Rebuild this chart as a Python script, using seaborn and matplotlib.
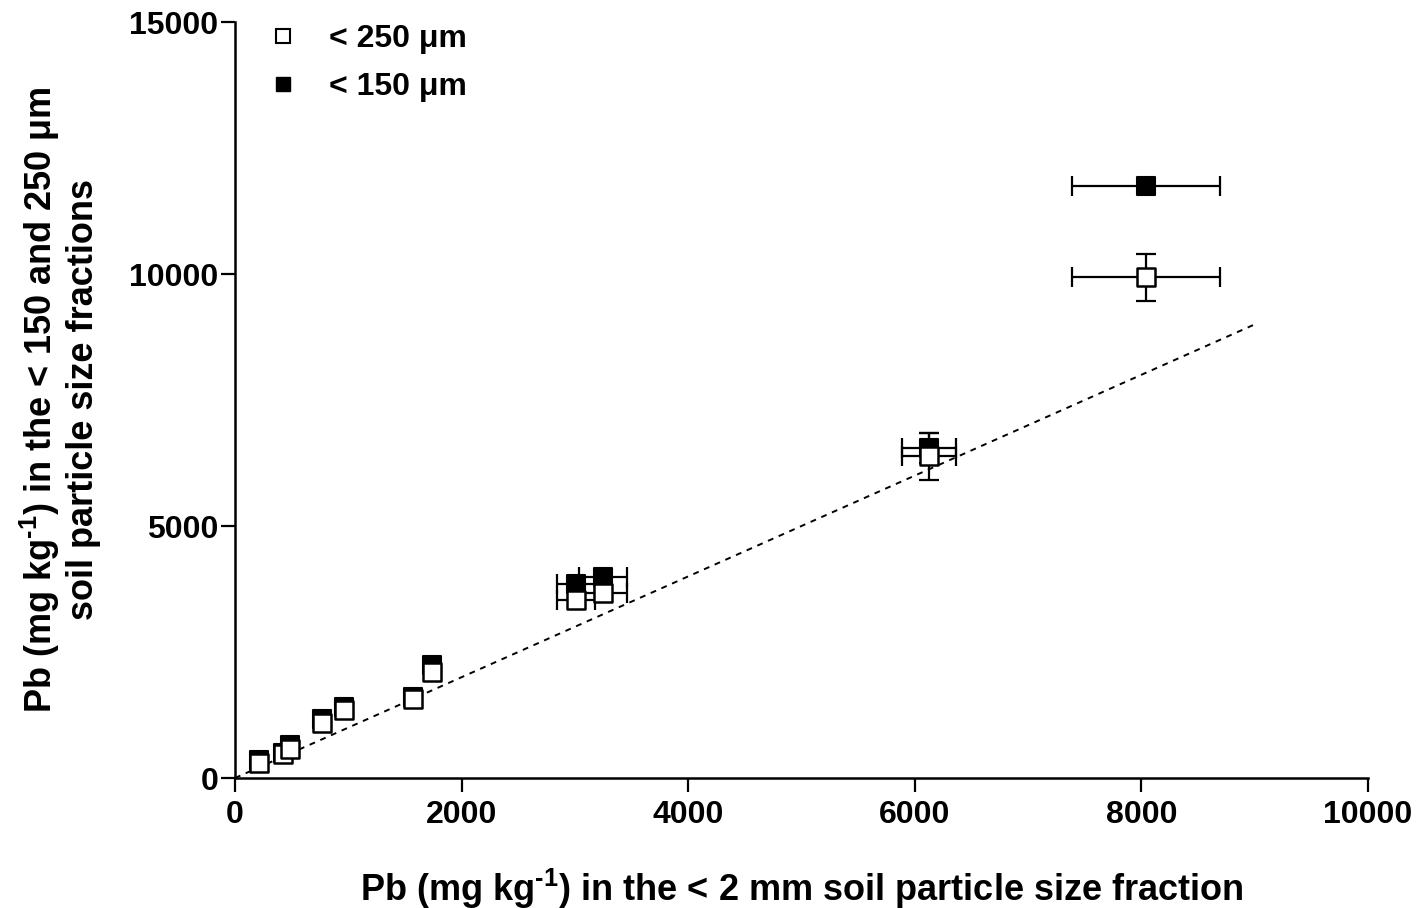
import numpy as np
import pandas as pd
import matplotlib
matplotlib.use("Agg")
import matplotlib.pyplot as plt
from matplotlib.lines import Line2D
import seaborn as sns

# Pb in the < 2 mm fraction (x) against the finer fractions (y)
pb_2mm = [214, 426, 485, 768, 965, 1574, 1742, 3010, 3250, 6128, 8040]
pb_2mm_err = [0, 0, 0, 0, 0, 0, 0, 170, 210, 240, 655]
pb_250 = [292, 470, 581, 1097, 1349, 1567, 2109, 3532, 3664, 6380, 9934]
pb_250_err = [0, 0, 0, 0, 0, 0, 0, 0, 0, 460, 463]
pb_150 = [351, 500, 661, 1171, 1403, 1600, 2236, 3843, 3995, 6550, 11746]
pb_150_err = [0, 0, 0, 0, 0, 0, 0, 0, 0, 300, 0]
one_to_one = [0, 9000]

x_ticks = [0, 2000, 4000, 6000, 8000, 10000]
y_ticks = [0, 5000, 10000, 15000]

sns.set_style("ticks")
plt.rcParams["font.family"] = ["Liberation Sans", "DejaVu Sans"]
plt.rcParams["font.weight"] = "bold"
plt.rcParams["text.color"] = "black"
plt.rcParams["axes.labelcolor"] = "black"
plt.rcParams["xtick.color"] = "black"
plt.rcParams["ytick.color"] = "black"
plt.rcParams["mathtext.fontset"] = "custom"
plt.rcParams["mathtext.rm"] = "Liberation Sans:bold"
plt.rcParams["mathtext.bf"] = "Liberation Sans:bold"
plt.rcParams["mathtext.default"] = "bf"

fig = plt.figure(figsize=(14.19, 9.08), dpi=100)
ax = fig.add_axes([235 / 1419, 1 - 778 / 908, (1368 - 235) / 1419, (778 - 22) / 908])

df = pd.DataFrame({"x": pb_2mm, "xerr": pb_2mm_err,
                   "y250": pb_250, "e250": pb_250_err,
                   "y150": pb_150, "e150": pb_150_err})

# 1:1 reference line
sns.lineplot(x=one_to_one, y=one_to_one, ax=ax, color="black",
             linestyle=(0, (3, 3)), linewidth=1.4, zorder=1)

# error bars for both fractions
for ycol, ecol in (("y150", "e150"), ("y250", "e250")):
    ax.errorbar(df["x"], df[ycol], xerr=df["xerr"], yerr=df[ecol],
                fmt="none", ecolor="black", elinewidth=1.6,
                capsize=7, capthick=1.6, zorder=2)

# filled squares (< 150 µm) drawn below the open squares (< 250 µm)
sns.scatterplot(data=df, x="x", y="y150", ax=ax, marker="s", s=150,
                color="black", edgecolor="black", linewidth=1.5, zorder=3)
sns.scatterplot(data=df, x="x", y="y250", ax=ax, marker="s", s=150,
                color="white", edgecolor="black", linewidth=1.8, zorder=4)

ax.set_xlim(0, 10000)
ax.set_ylim(0, 15000)
ax.set_xticks(x_ticks)
ax.set_yticks(y_ticks)
ax.tick_params(axis="both", direction="out", length=10, width=1.6,
               labelsize=23, color="black", labelcolor="black")
ax.tick_params(axis="y", pad=2)
ax.tick_params(axis="x", pad=6)
for lab in ax.get_xticklabels() + ax.get_yticklabels():
    lab.set_fontweight("bold")
sns.despine(ax=ax)
for side in ("left", "bottom"):
    ax.spines[side].set_linewidth(1.8)
    ax.spines[side].set_color("black")

ax.set_xlabel(r"Pb (mg kg$^{\text{-1}}$) in the < 2 mm soil particle size fraction",
              fontsize=26, fontweight="bold", labelpad=26)
ax.set_ylabel("Pb (mg kg$^{\\text{-1}}$) in the < 150 and 250 μm\nsoil particle size fractions",
              fontsize=26, fontweight="bold", labelpad=20, linespacing=1.15)

handles = [
    Line2D([], [], linestyle="none", marker="s", markersize=9.5,
           markerfacecolor="white", markeredgecolor="black", markeredgewidth=1.5),
    Line2D([], [], linestyle="none", marker="s", markersize=9.5,
           markerfacecolor="black", markeredgecolor="black"),
]
ax.legend(handles, ["< 250 μm", "< 150 μm"], loc="upper left",
          bbox_to_anchor=(0.0, 1.035), frameon=False,
          handletextpad=0.85, labelspacing=0.55, handlelength=1.2,
          prop={"weight": "bold", "size": 23})

fig.savefig("out.png", dpi=100)
